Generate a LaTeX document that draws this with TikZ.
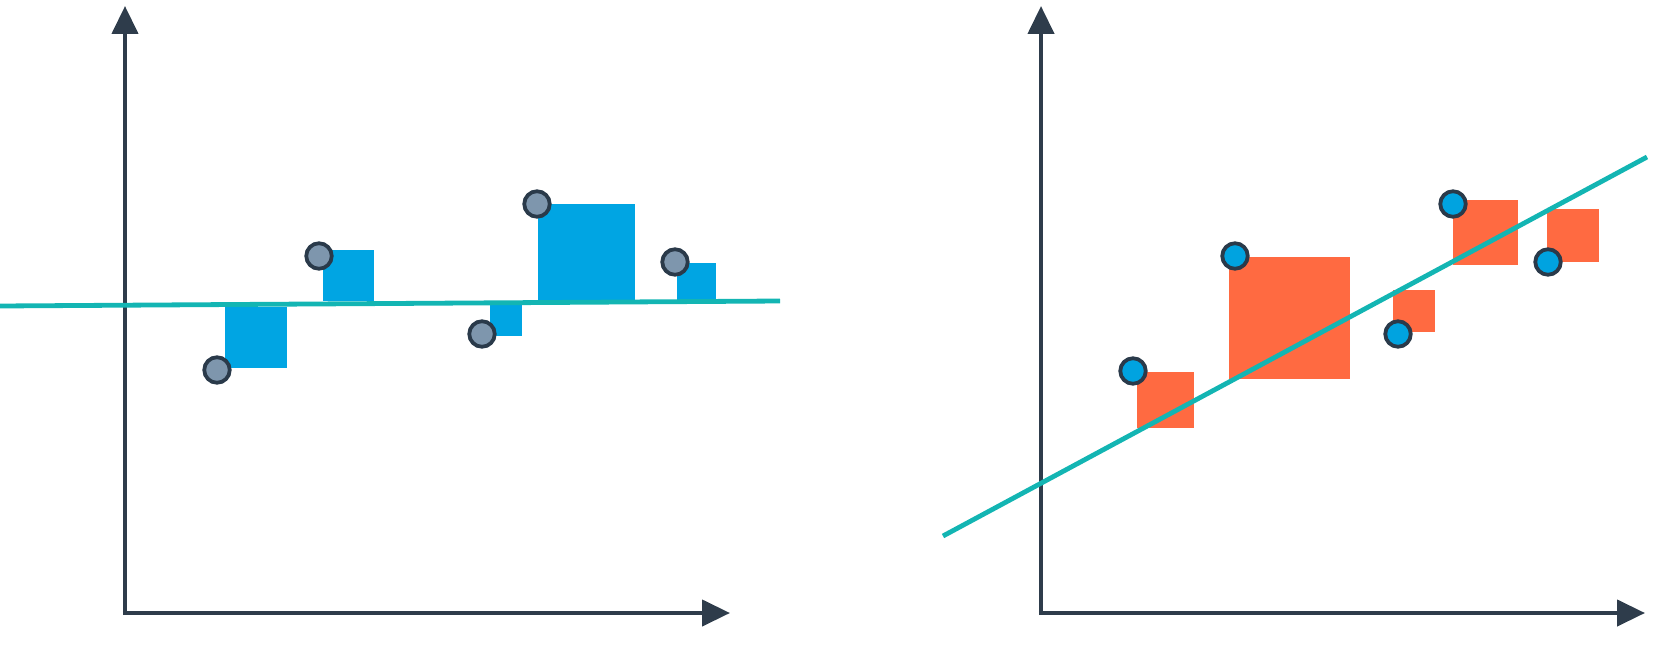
\documentclass[tikz,border=0pt]{standalone}
\usetikzlibrary{arrows.meta}
\definecolor{axiscol}{HTML}{2E3C4B}
\definecolor{fitcol}{HTML}{13B5B3}
\definecolor{sqblue}{HTML}{00A5E3}
\definecolor{sqorange}{HTML}{FF6A41}
\definecolor{dotgray}{HTML}{7E96AD}
\definecolor{dotblue}{HTML}{00A3E0}
\definecolor{dotedge}{HTML}{2A3A4A}
\tikzset{
  axisline/.style={draw=axiscol, line width=4.3pt, -{Triangle[width=26pt,length=28pt]}},
  fitline/.style={draw=fitcol, line width=4.8pt},
  sqb/.style={fill=sqblue},
  sqo/.style={fill=sqorange},
  dotg/.style={circle, draw=dotedge, fill=dotgray, line width=3.8pt, minimum size=25.5pt, inner sep=0pt},
  dotb/.style={circle, draw=dotedge, fill=dotblue, line width=3.8pt, minimum size=25.5pt, inner sep=0pt}
}
\begin{document}
\begin{tikzpicture}[x=1pt,y=-1pt]
\useasboundingbox (0,0) rectangle (1664,658);
% ---------- left plot ----------
\coordinate (LO) at (125,613);
\coordinate (LY) at (125,6);
\coordinate (LX) at (730,613);
\draw[axisline] ([yshift=-2.15pt]LO) -- (LY);
\draw[axisline] ([xshift=-2.15pt]LO) -- (LX);
\fill[sqb] (225,307) rectangle (287,368);
\fill[sqb] (323,250) rectangle (374,301);
\fill[sqb] (490,305) rectangle (522,336);
\fill[sqb] (538,204) rectangle (635,301);
\fill[sqb] (677,263) rectangle (716,301);
\coordinate (LF1) at (0,306);
\coordinate (LF2) at (780,301);
\draw[fitline] (LF1) -- (LF2);
\node[dotg] (l1) at (217,370) {};
\node[dotg] (l2) at (319,256) {};
\node[dotg] (l3) at (482,334) {};
\node[dotg] (l4) at (537,204) {};
\node[dotg] (l5) at (675,262) {};
% ---------- right plot ----------
\coordinate (RO) at (1041,613);
\coordinate (RY) at (1041,6);
\coordinate (RX) at (1645,613);
\draw[axisline] ([yshift=-2.15pt]RO) -- (RY);
\draw[axisline] ([xshift=-2.15pt]RO) -- (RX);
\fill[sqo] (1137,372) rectangle (1194,428);
\fill[sqo] (1229,257) rectangle (1350,379);
\fill[sqo] (1393,290) rectangle (1435,332);
\fill[sqo] (1453,200) rectangle (1518,265);
\fill[sqo] (1547,209) rectangle (1599,262);
\coordinate (RF1) at (943,536);
\coordinate (RF2) at (1647,157);
\draw[fitline] (RF1) -- (RF2);
\node[dotb] (r1) at (1133,371) {};
\node[dotb] (r2) at (1235,256) {};
\node[dotb] (r3) at (1398,334) {};
\node[dotb] (r4) at (1453,204) {};
\node[dotb] (r5) at (1548,262) {};
\end{tikzpicture}
\end{document}
